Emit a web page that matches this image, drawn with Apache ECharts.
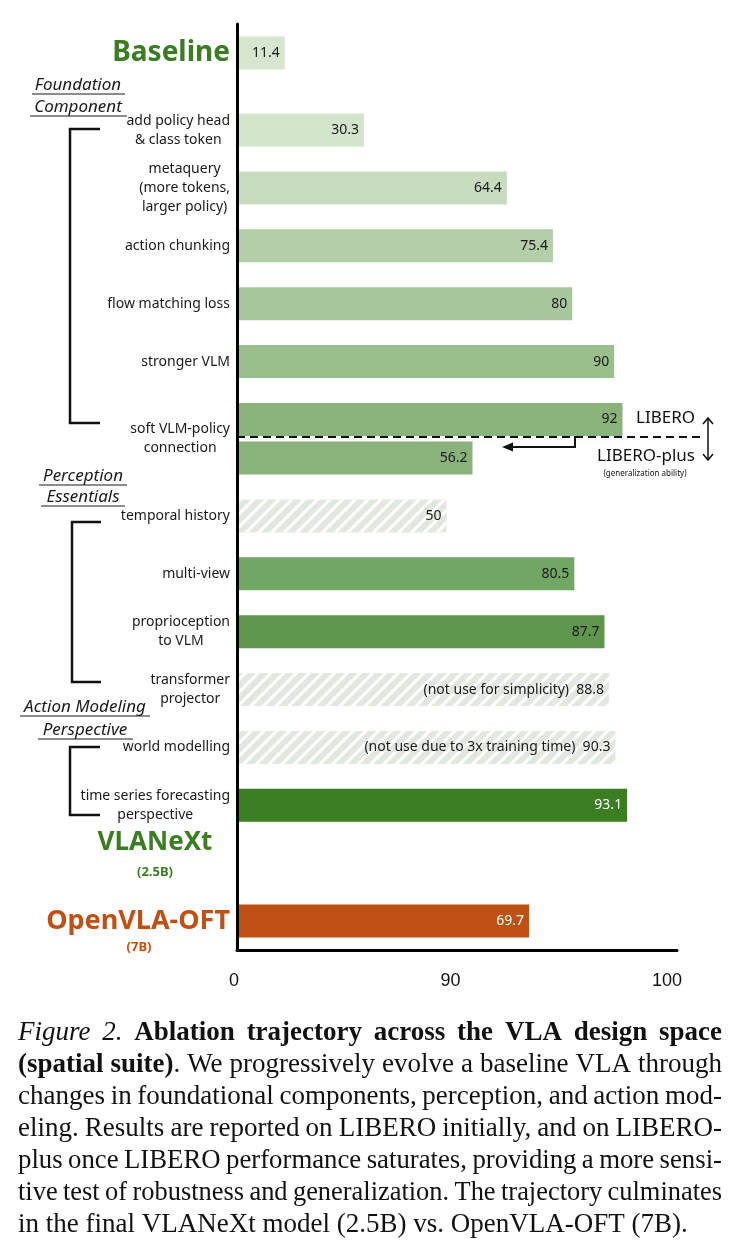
<!DOCTYPE html>
<html>
<head>
<meta charset="utf-8">
<title>VLA ablation trajectory</title>
<script src="https://cdn.jsdelivr.net/npm/echarts@6/dist/echarts.min.js"></script>
<style>
  html, body { margin: 0; padding: 0; background: #fff; }
  #chart { width: 739px; height: 1243px; }
</style>
</head>
<body>
<div id="chart"></div>
<script>
// one entry per axis slot, '' slots are just spacing
const categories = [
  '', 'Baseline', '', '', '',
  'add policy head\n& class token', '', '',
  'metaquery\n(more tokens,\nlarger policy)', '', '',
  'action chunking', '', '',
  'flow matching loss', '', '',
  'stronger VLM', '', '',
  '', 'soft VLM-policy\nconnection', '', '', '',
  'temporal history', '', '',
  'multi-view', '', '',
  'proprioception\nto VLM', '', '',
  'transformer\nprojector', '', '',
  'world modelling', '', '',
  'time series forecasting\nperspective', '', '', '', '', '',
  'OpenVLA-OFT', ''
];

const scores = [
  null, 11.4, null, null, null,
  30.3, null, null,
  64.4, null, null,
  75.4, null, null,
  80, null, null,
  90, null, null,
  92, null, 56.2, null, null,
  50, null, null,
  80.5, null, null,
  87.7, null, null,
  88.8, null, null,
  90.3, null, null,
  93.1, null, null, null, null, null,
  69.7, null
];

// variants that were tried but not kept
const dropped = ['temporal history', 'transformer\nprojector', 'world modelling'];
const notes = {
  'transformer\nprojector': '(not use for simplicity)',
  'world modelling': '(not use due to 3x training time)'
};

const xTicks = ['0', '90', '100'];

// bar colours top to bottom (null = hatched)
const shades = ['#d6e6cf', '#d3e4cc', '#c7dbbf', '#b3cea8', '#a8c69c', '#9bbe8d',
  '#89b37a', '#89b37a', null, '#72a665', '#5e964e', null, null, '#3b7d23', '#c05116'];

const hatch = {
  symbol: 'rect', symbolSize: 1, color: '#ffffff',
  dashArrayX: [1, 0], dashArrayY: [3, 6], rotation: -Math.PI / 4
};

function isDark(hex) {
  const r = parseInt(hex.slice(1, 3), 16), g = parseInt(hex.slice(3, 5), 16), b = parseInt(hex.slice(5, 7), 16);
  return (0.299 * r + 0.587 * g + 0.114 * b) / 255 < 0.45;
}

let k = 0;
const barData = scores.map(function (v, i) {
  if (v == null) return '-';
  const shade = shades[k++];
  const name = categories[i];
  if (dropped.indexOf(name) >= 0) {
    return { value: v, itemStyle: { color: '#e2e8df', decal: hatch } };
  }
  return {
    value: v,
    itemStyle: { color: shade },
    label: { color: isDark(shade) ? '#ffffff' : '#1a1a1a' }
  };
});

const labelStyle = { Baseline: 'b', 'OpenVLA-OFT': 'o' };

// caption, justified word by word
const SERIF = '"Liberation Serif", "Times New Roman", serif';
const capSize = 27;
const captionLines = [
  [['i', 'Figure 2.'], ['n', ' '], ['b', 'Ablation trajectory across the VLA design space']],
  [['b', '(spatial suite)'], ['n', '. We progressively evolve a baseline VLA through']],
  [['n', 'changes in foundational components, perception, and action mod-']],
  [['n', 'eling. Results are reported on LIBERO initially, and on LIBERO-']],
  [['n', 'plus once LIBERO performance saturates, providing a more sensi-']],
  [['n', 'tive test of robustness and generalization. The trajectory culminates']],
  [['n', 'in the final VLANeXt model (2.5B) vs. OpenVLA-OFT (7B).']]
];
const capFont = {
  n: capSize + 'px ' + SERIF,
  b: 'bold ' + capSize + 'px ' + SERIF,
  i: 'italic ' + capSize + 'px ' + SERIF
};
const capRich = {
  n: { fontFamily: SERIF, fontSize: capSize, fill: '#111' },
  b: { fontFamily: SERIF, fontSize: capSize, fontWeight: 'bold', fill: '#111' },
  i: { fontFamily: SERIF, fontSize: capSize, fontStyle: 'italic', fill: '#111' }
};
const ctx = document.createElement('canvas').getContext('2d');
function measure(st, txt) { ctx.font = capFont[st]; return ctx.measureText(txt).width; }

function toWords(line) {
  const words = []; let cur = [];
  line.forEach(function (seg) {
    seg[1].split(/( )/).forEach(function (part) {
      if (part === ' ') { if (cur.length) { words.push(cur); cur = []; } }
      else if (part) cur.push([seg[0], part]);
    });
  });
  if (cur.length) words.push(cur);
  return words;
}

const capLeft = 18, capRight = 722, capTop = 1033, capStep = 32;
const minGap = 0.2 * capSize;
const captionEls = [];
captionLines.forEach(function (line, li) {
  const words = toWords(line);
  const widths = words.map(function (w) {
    return w.reduce(function (s, p) { return s + measure(p[0], p[1]); }, 0);
  });
  const total = widths.reduce(function (a, b) { return a + b; }, 0);
  const avail = capRight - capLeft;
  const last = li === captionLines.length - 1;
  let sx = 1, gap;
  if (total + minGap * (words.length - 1) > avail) {
    sx = (avail - minGap * (words.length - 1)) / total;
    gap = minGap;
  } else {
    gap = last ? measure('n', ' ') : (avail - total) / (words.length - 1);
  }
  let x = capLeft;
  words.forEach(function (w, wi) {
    captionEls.push({
      type: 'text', x: x, y: capTop + li * capStep, scaleX: sx,
      style: {
        text: w.map(function (p) { return '{' + p[0] + '|' + p[1] + '}'; }).join(''),
        rich: capRich, align: 'left', verticalAlign: 'middle'
      }
    });
    x += widths[wi] * sx + gap;
  });
});

// section headers with underlines
const SANS = '"Noto Sans", sans-serif';
const headers = [
  ['Foundation', 78, 85, 32, 125], ['Component', 78, 107, 30, 127],
  ['Perception', 83, 476, 39, 127], ['Essentials', 83, 497, 41, 125],
  ['Action Modeling', 85, 707, 20, 150], ['Perspective', 85, 730, 38, 133]
];
const headerEls = [];
headers.forEach(function (h) {
  headerEls.push({
    type: 'text', x: h[1], y: h[2],
    style: { text: h[0], fontFamily: SANS, fontSize: 17, fontStyle: 'italic', fill: '#1a1a1a', align: 'center', verticalAlign: 'middle' }
  });
  headerEls.push({
    type: 'line', shape: { x1: h[3], y1: h[2] + 9, x2: h[4], y2: h[2] + 9 },
    style: { stroke: '#1a1a1a', lineWidth: 1 }
  });
});

function bracket(x, y1, y2, x2) {
  return {
    type: 'polyline',
    shape: { points: [[x2, y1], [x, y1], [x, y2], [x2, y2]] },
    style: { stroke: '#111', lineWidth: 2.5, fill: null }
  };
}

const annotEls = [
  bracket(70, 129, 423, 100),
  bracket(72, 522, 682, 101),
  bracket(70, 747, 815, 100),
  // LIBERO / LIBERO-plus split
  { type: 'line', shape: { x1: 237, y1: 437, x2: 705, y2: 437 }, style: { stroke: '#111', lineWidth: 2, lineDash: [8, 5] } },
  { type: 'polyline', shape: { points: [[575, 418], [575, 447], [510, 447]] }, style: { stroke: '#111', lineWidth: 2, fill: null } },
  { type: 'polygon', shape: { points: [[502, 447], [513, 442.5], [513, 451.5]] }, style: { fill: '#111' } },
  { type: 'line', shape: { x1: 708, y1: 418, x2: 708, y2: 460 }, style: { stroke: '#111', lineWidth: 1.5 } },
  { type: 'polyline', shape: { points: [[703, 424], [708, 418], [713, 424]] }, style: { stroke: '#111', lineWidth: 1.5, fill: null } },
  { type: 'polyline', shape: { points: [[703, 454], [708, 460], [713, 454]] }, style: { stroke: '#111', lineWidth: 1.5, fill: null } },
  { type: 'text', x: 695, y: 418, style: { text: 'LIBERO', fontFamily: SANS, fontSize: 17, fill: '#111', align: 'right', verticalAlign: 'middle' } },
  { type: 'text', x: 695, y: 456, style: { text: 'LIBERO-plus', fontFamily: SANS, fontSize: 17, fill: '#111', align: 'right', verticalAlign: 'middle' } },
  { type: 'text', x: 645, y: 474, style: { text: '(generalization ability)', fontFamily: SANS, fontSize: 8, fill: '#111', align: 'center', verticalAlign: 'middle' } },
  // model names
  { type: 'text', x: 155, y: 843, style: { text: 'VLANeXt', fontFamily: SANS, fontSize: 26, fontWeight: 'bold', fill: '#3b7d23', align: 'center', verticalAlign: 'middle' } },
  { type: 'text', x: 155, y: 872, style: { text: '(2.5B)', fontFamily: SANS, fontSize: 13, fontWeight: 'bold', fill: '#3b7d23', align: 'center', verticalAlign: 'middle' } },
  { type: 'text', x: 139, y: 947, style: { text: '(7B)', fontFamily: SANS, fontSize: 13, fontWeight: 'bold', fill: '#c05116', align: 'center', verticalAlign: 'middle' } }
];

const myChart = echarts.init(document.getElementById('chart'));
myChart.setOption({
  animation: false,
  backgroundColor: '#ffffff',
  grid: [
    { left: 237, right: 62, top: 24, bottom: 293 },
    { left: 234, right: 72, top: 940, height: 10 }
  ],
  xAxis: [
    {
      type: 'value', gridIndex: 0, min: 0, max: 105,
      axisLine: { show: true, lineStyle: { color: '#000', width: 3 } },
      axisTick: { show: false }, axisLabel: { show: false }, splitLine: { show: false }
    },
    {
      type: 'category', gridIndex: 1, data: xTicks, boundaryGap: false,
      axisLine: { show: false }, axisTick: { show: false },
      axisLabel: { interval: 0, margin: 22, fontSize: 18, fontFamily: '"Liberation Sans", Arial, sans-serif', color: '#111' }
    }
  ],
  yAxis: [
    {
      type: 'category', gridIndex: 0, inverse: true, data: categories, z: 3,
      axisLine: { show: true, lineStyle: { color: '#000', width: 3 } },
      axisTick: { show: false },
      axisLabel: {
        interval: 0, margin: 7,
        formatter: function (v) {
          if (!v) return '';
          const st = labelStyle[v] || 'c';
          return v.split('\n').map(function (s) { return '{' + st + '|' + s + '}'; }).join('\n');
        },
        rich: {
          c: { fontFamily: SANS, fontSize: 14, color: '#1a1a1a', lineHeight: 19, align: 'center' },
          b: { fontFamily: SANS, fontSize: 28, fontWeight: 'bold', color: '#3b7d23', align: 'center' },
          o: { fontFamily: SANS, fontSize: 27, fontWeight: 'bold', color: '#c05116', align: 'center' }
        }
      }
    },
    { type: 'value', gridIndex: 1, show: false }
  ],
  series: [{
    type: 'bar',
    xAxisIndex: 0, yAxisIndex: 0,
    barWidth: 33,
    data: barData,
    label: {
      show: true, position: 'insideRight', distance: 5,
      fontFamily: SANS, fontSize: 14, color: '#1a1a1a',
      formatter: function (p) {
        return (notes[p.name] ? notes[p.name] + '  ' : '') + p.value;
      }
    }
  }],
  graphic: { elements: headerEls.concat(annotEls, captionEls) }
});
</script>
</body>
</html>
